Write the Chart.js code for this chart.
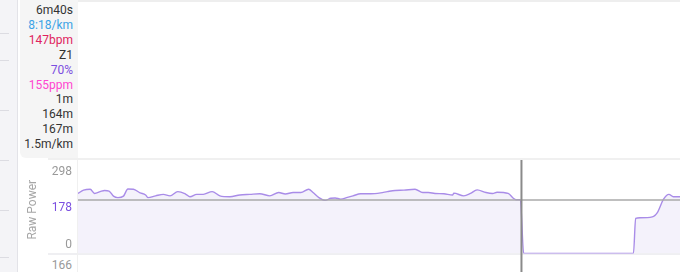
<!DOCTYPE html>
<html>
<head>
<meta charset="utf-8">
<script src="https://cdn.jsdelivr.net/npm/chart.js@4"></script>
<style>
  body { margin: 0; background: #fff; font-family: Roboto, sans-serif; }
  #wrap { position: relative; width: 680px; height: 272px; overflow: hidden; }
  #strip { position: absolute; left: 0; top: 0; width: 17px; height: 272px; background: #f4f4f7; border-right: 1px solid #e3e3e8; }
  .mark { position: absolute; left: 0; width: 9px; height: 1px; background: #dcdce2; }
  #panel { position: absolute; left: 20px; top: 0; width: 58px; height: 158px; background: #f5f5f5; border-bottom-left-radius: 6px; }
  #panel div { text-align: right; padding-right: 5px; font-size: 12px; line-height: 14.9px; color: #333; }
  #topline { position: absolute; left: 78px; top: 0; width: 602px; height: 2px; background: #eeeeee; }
  #midline { position: absolute; left: 48px; top: 158px; width: 632px; height: 2px; background: #f0f0f0; }
  #botline { position: absolute; left: 48px; top: 253px; width: 632px; height: 2px; background: #efeff2; }
  #vline { position: absolute; left: 77px; top: 160px; width: 1px; height: 112px; background: #f0f0f0; }
  #next { position: absolute; right: 608px; top: 258px; font-size: 12px; color: #999; }
  canvas { position: absolute; left: 0; top: 0; }
</style>
</head>
<body>
<div id="wrap">
  <div id="strip"></div>
  <div id="panel"></div>
  <div id="topline"></div>
  <div id="midline"></div>
  <div id="botline"></div>
  <div id="vline"></div>
  <div id="next">166</div>
  <canvas id="chart" width="680" height="272"></canvas>
</div>
<script>
// readout at the cursor
const readoutText = ["6m40s", "8:18/km", "147bpm", "Z1", "70%", "155ppm", "1m", "164m", "167m", "1.5m/km"];
const readoutColors = ["#333", "#3ba3e6", "#e0245e", "#333", "#7b4fe0", "#ff45d0", "#333", "#333", "#333", "#333"];

// raw power trace (time in seconds, watts)
const times = [0, 5, 11, 15, 20, 24, 28, 32, 36, 41, 45, 50, 56, 61, 63, 70, 77, 83, 90, 97,
  101, 107, 113, 121, 128, 137, 146, 155, 164, 173, 181, 187, 194, 201, 208, 212, 217, 223, 228, 232,
  237, 243, 248, 255, 264, 273, 279, 286, 294, 304, 311, 316, 322, 330, 338, 339, 348, 354, 360, 368,
  374, 378, 388, 393, 395, 399, 402, 501, 503, 507, 518, 523, 528, 533, 537, 543];
const rawPower = [200, 211, 214, 200, 206, 210, 208, 191, 186, 191, 215, 214, 202, 195, 186, 192, 197, 192, 206, 198,
  189, 197, 197, 206, 192, 189, 195, 197, 199, 192, 203, 198, 203, 203, 214, 203, 187, 177, 184, 185,
  181, 187, 192, 199, 199, 202, 206, 210, 211, 214, 203, 203, 200, 199, 195, 201, 192, 200, 212, 203,
  200, 204, 200, 183, 179, 179, 0, 0, 117, 119, 122, 139, 180, 197, 189, 189];

const yTicks = [0, 178, 298];
const refPower = 178;
const cursorTime = 400;
const timeMax = 543;

const panel = document.getElementById("panel");
readoutText.forEach((t, i) => {
    const d = document.createElement("div");
    d.textContent = t;
    d.style.color = readoutColors[i];
    if (i === 0) d.style.paddingTop = "3px";
    panel.appendChild(d);
});

const strip = document.getElementById("strip");
[33, 60, 110, 160, 210, 257].forEach(y => {
    const m = document.createElement("div");
    m.className = "mark";
    m.style.top = y + "px";
    strip.appendChild(m);
});

// y labels, reference line and cursor
const overlay = {
    id: "overlay",
    afterDatasetsDraw(chart) {
        const { ctx, chartArea, scales } = chart;
        const y = scales.y.getPixelForValue(refPower);
        ctx.save();
        ctx.strokeStyle = "#aaaaaa";
        ctx.lineWidth = 1.5;
        ctx.beginPath();
        ctx.moveTo(chartArea.left, y);
        ctx.lineTo(chartArea.right, y);
        ctx.stroke();
        ctx.restore();
    },
    afterDraw(chart) {
        const { ctx, chartArea, scales } = chart;
        ctx.save();
        ctx.font = "12px Roboto";
        ctx.textAlign = "right";
        ctx.textBaseline = "middle";
        yTicks.forEach(v => {
            const py = scales.y.getPixelForValue(v);
            ctx.fillStyle = v === refPower ? "#7b4fe0" : "#999999";
            ctx.fillText(String(v), 72, v === 0 ? py - 9 : py + 8);
        });
        // axis title
        ctx.translate(33, (chartArea.top + chartArea.bottom) / 2 + 1);
        ctx.rotate(-Math.PI / 2);
        ctx.textAlign = "center";
        ctx.fillStyle = "#a6a6a6";
        ctx.font = "12px Roboto";
        ctx.fillText("Raw Power", 0, 0);
        ctx.restore();

        const cx = scales.x.getPixelForValue(cursorTime);
        ctx.save();
        ctx.strokeStyle = "#8a8a8a";
        ctx.lineWidth = 2;
        ctx.beginPath();
        ctx.moveTo(cx, 160);
        ctx.lineTo(cx, 272);
        ctx.stroke();
        ctx.restore();
    }
};

new Chart(document.getElementById("chart"), {
    type: "line",
    data: {
        datasets: [{
            data: times.map((t, i) => ({ x: t, y: rawPower[i] })),
            borderColor: "#a98ce8",
            borderWidth: 1.4,
            backgroundColor: "#f4f2fb",
            fill: "origin",
            pointRadius: 0,
            tension: 0.3,
            cubicInterpolationMode: "monotone"
        }]
    },
    options: {
        responsive: false,
        animation: false,
        layout: { padding: { left: 78, top: 164, right: 0, bottom: 18.5 } },
        plugins: { legend: { display: false }, tooltip: { enabled: false } },
        scales: {
            x: { type: "linear", min: 0, max: timeMax, display: false },
            y: { min: 0, max: 298, display: false }
        }
    },
    plugins: [overlay]
});
</script>
</body>
</html>
